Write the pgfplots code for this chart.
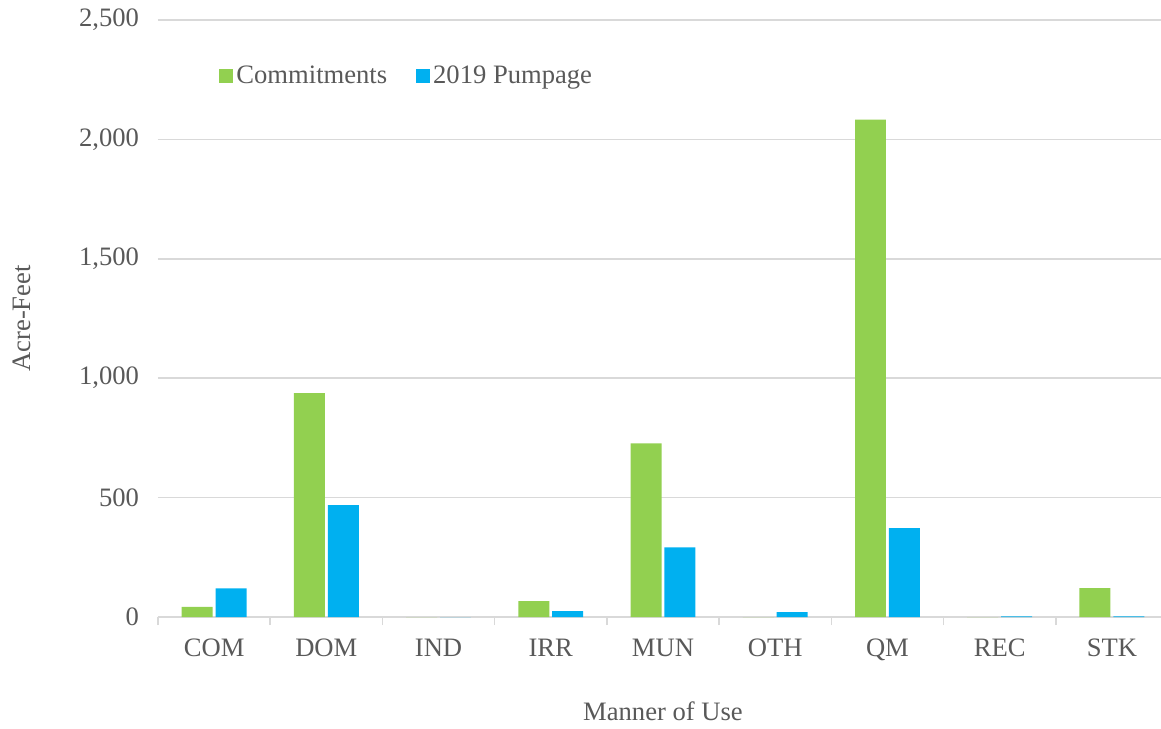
\documentclass[border=0pt]{standalone}
\usepackage{pgfplots}
\pgfplotsset{compat=1.18}
\usepackage{fontspec}
\setmainfont{Liberation Serif}
\definecolor{cgreen}{HTML}{92D050}
\definecolor{cblue}{HTML}{00B0F0}
\definecolor{cgrid}{HTML}{D9D9D9}
\definecolor{ctext}{HTML}{595959}
\newcommand{\ff}{\fontsize{13.3}{16}\selectfont}
\begin{document}
\begin{tikzpicture}
\useasboundingbox (-79pt,-55.5pt) rectangle (501.5pt,308.5pt);
\begin{axis}[
  at={(0,0)}, anchor=south west,
  scale only axis,
  width=505pt, height=298.5pt,
  xmin=-0.5, xmax=8.5, ymin=0, ymax=2500,
  ybar, bar width=0.276,
  xtick={0,...,8},
  xticklabels={COM,DOM,IND,IRR,MUN,OTH,QM,REC,STK},
  minor xtick={-0.5,0.5,...,8.5},
  ytick={0,500,...,2500},
  major tick length=0pt, minor tick length=4pt,
  tick align=outside,
  tick style={color=cgrid, line width=0.75pt},
  axis x line*=bottom, axis y line*=left,
  x axis line style={color=cgrid, line width=0.75pt},
  y axis line style={draw=none},
  ymajorgrids,
  grid style={color=cgrid, line width=0.8pt},
  /pgf/number format/.cd, 1000 sep={,}, assume math mode=true,
  /pgfplots/.cd,
  tick label style={font=\ff, text=ctext},
  yticklabel style={xshift=-6pt},
  xticklabel style={yshift=-7.5pt},
  label style={font=\ff, text=ctext},
  xlabel={Manner of Use},
  ylabel={Acre-Feet},
  xlabel style={at={(axis description cs:0.5,-0.13)}, anchor=north},
  ylabel style={at={(axis description cs:-0.1347,0.5)}, anchor=center},
  legend style={draw=none, fill=none, font=\ff, text=ctext,
    legend columns=-1, anchor=west, at={(axis description cs:0.0545,0.906)},
    /tikz/every even column/.append style={column sep=13pt},
    nodes={inner sep=1.5pt}},
  legend image code/.code={\fill[#1] (0pt,-3.5pt) rectangle (7pt,3.5pt);},
]
\addplot[fill=cgreen, draw=none, bar shift=-0.151] coordinates {
  (0,42) (1,937) (2,0) (3,67) (4,727) (5,0) (6,2083) (7,0) (8,121)};
\addplot[fill=cblue, draw=none, bar shift=0.151] coordinates {
  (0,120) (1,468) (2,0) (3,25) (4,292) (5,20) (6,372) (7,3) (8,3)};
\legend{Commitments, 2019 Pumpage}
\end{axis}
\end{tikzpicture}
\end{document}
